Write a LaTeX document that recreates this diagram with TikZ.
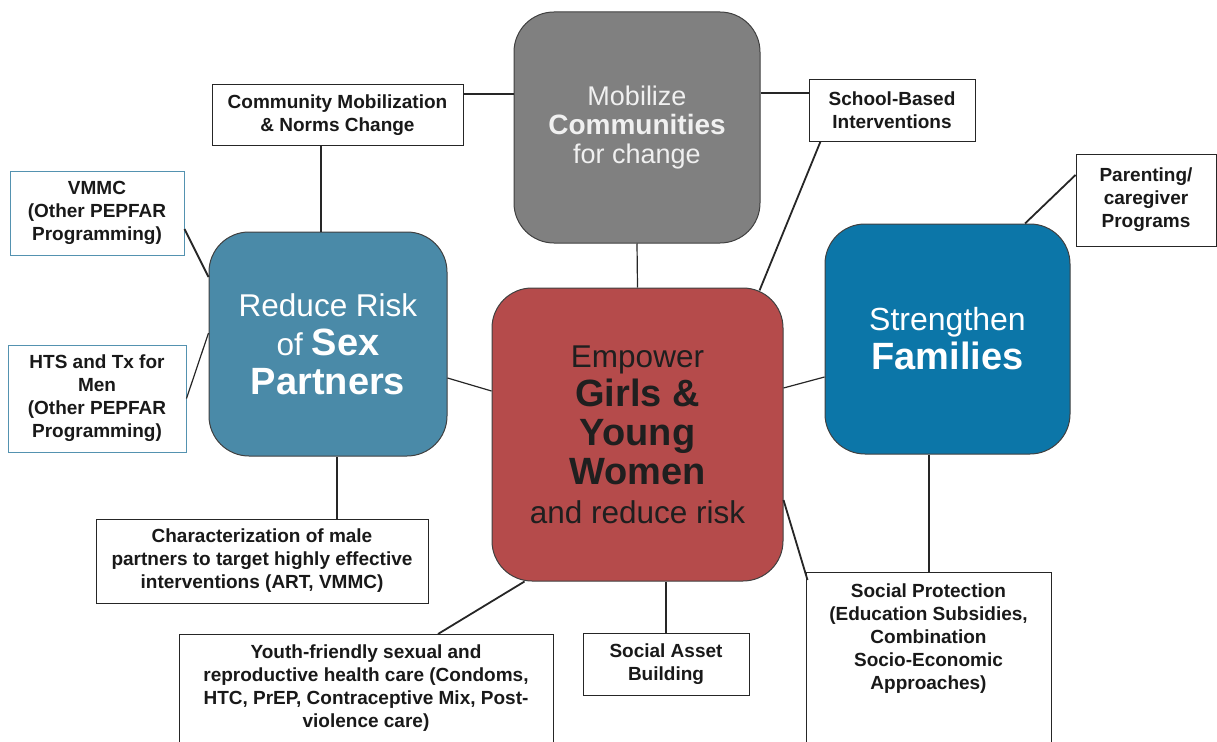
\documentclass[tikz,border=0pt]{standalone}
\usepackage{fontspec}
\setmainfont{Liberation Sans}
\usepackage{xcolor}
\usepackage{tikz}
\definecolor{mobgray}{RGB}{128,128,128}
\definecolor{empred}{RGB}{181,75,75}
\definecolor{riskblue}{RGB}{74,138,168}
\definecolor{famblue}{RGB}{12,118,168}
\definecolor{boxedge}{RGB}{84,146,176}

\newcommand{\bigtxt}{\fontsize{31.5}{39}\selectfont}
\newcommand{\bigbf}{\fontsize{38}{39}\selectfont\bfseries}
\newcommand{\smalltxt}{\fontsize{19}{23}\selectfont\bfseries}

\begin{document}
\begin{tikzpicture}[x=1pt,y=-1pt]
\useasboundingbox (0,0) rectangle (1217,741);
\clip (0,0) rectangle (1217,741);

\begin{scope}[every node/.style={rounded corners=40pt,draw=black!75,line width=1pt,align=center,inner sep=0pt}]
    \node[fill=mobgray,text=white!94!black,minimum width=246pt,minimum height=231pt,font=\fontsize{27}{29}\selectfont] (mobilize) at (637,127.5) {Mobilize\\{\bfseries\fontsize{28}{29}\selectfont Communities}\\for change};
    \node[fill=riskblue,text=white,minimum width=238pt,minimum height=224pt,font=\bigtxt] (reduce) at (328,344) {Reduce Risk\\of {\bigbf Sex}\\{\bigbf Partners}};
    \node[fill=empred,text=black!88,minimum width=291pt,minimum height=293pt,font=\bigtxt] (empower) at (637.5,434.5) {Empower\\{\bigbf Girls \&}\\{\bigbf Young}\\{\bigbf Women}\\and reduce risk};
    \node[fill=famblue,text=white,minimum width=245pt,minimum height=230pt,font=\fontsize{32}{39}\selectfont] (strength) at (947.5,339) {Strengthen\\{\bigbf Families}};
\end{scope}

\begin{scope}[every node/.style={draw=black!85,line width=1pt,fill=white,align=center,inner sep=0pt,font=\smalltxt,text=black!90}]
    \node[minimum width=251pt,minimum height=60pt] (comm) at (337.5,115) {Community Mobilization\\\& Norms Change};
    \node[minimum width=166pt,minimum height=61pt] (school) at (892,110.5) {School-Based\\Interventions};
    \node[minimum width=140pt,minimum height=92pt] (parent) at (1146,200) {Parenting/\\caregiver\\Programs};
    \node[draw=boxedge,minimum width=174pt,minimum height=84pt] (vmmc) at (97,213) {VMMC\\(Other PEPFAR\\Programming)};
    \node[draw=boxedge,minimum width=178pt,minimum height=107pt] (hts) at (97,398.5) {HTS and Tx for\\Men\\(Other PEPFAR\\Programming)};
    \node[minimum width=332pt,minimum height=84pt] (charact) at (262,561) {Characterization of male\\partners to target highly effective\\interventions (ART, VMMC)};
    \node[minimum width=166pt,minimum height=62pt] (asset) at (666,664) {Social Asset\\Building};
    \node[anchor=north] (youth) at (366,634) {\parbox[t][160pt][t]{374pt}{\centering\vspace{10pt}Youth-friendly sexual and\\reproductive health care (Condoms,\\HTC, PrEP, Contraceptive Mix, Post-\\violence care)}};
    \node[anchor=north] (sprot) at (928.5,572) {\parbox[t][200pt][t]{245pt}{\centering\vspace{11pt}Social Protection\\(Education Subsidies,\\Combination\\Socio-Economic\\Approaches)}};
\end{scope}

\begin{scope}[every edge/.style={draw=black!85,line width=1.8pt}]
    \path [-] ([yshift=21pt]comm.east) edge ([yshift=21pt]comm.east -| mobilize.west);
    \path [-] ([xshift=-16.5pt]comm.south) edge ([xshift=-16.5pt]comm.south |- reduce.north);
    \path [-] ([yshift=34.5pt]mobilize.east) edge ([yshift=34.5pt]mobilize.east -| school.west);
    \path [-] ([xshift=12pt]school.south west) edge ([xshift=-24pt,yshift=-3pt]empower.north east);
    \path [-] ([yshift=25pt]parent.west) edge ([xshift=77.5pt]strength.north);
    \path [-] ([xshift=-18.5pt]strength.south) edge ([xshift=-18.5pt]strength.south |- sprot.north);
    \path [-] ([yshift=-65.5pt]empower.east) edge ([xshift=2pt,yshift=-8pt]sprot.north west);
    \path [-] ([xshift=28.5pt]empower.south) edge ([xshift=28.5pt]empower.south |- asset.north);
    \path [-] ([xshift=33pt]empower.south west) edge ([xshift=72pt]youth.north);
    \path [-] ([xshift=9pt]reduce.south) edge ([xshift=9pt]reduce.south |- charact.north);
    \path [-] ([yshift=-16pt]vmmc.east) edge ([yshift=67pt]reduce.west);
\end{scope}

\begin{scope}[every edge/.style={draw=black!85,line width=1.2pt}]
    \path [-] (mobilize.south) edge (empower.north);
    \path [-] ([yshift=-34pt]reduce.east) edge ([yshift=43.5pt]empower.west);
    \path [-] ([yshift=46.5pt]empower.east) edge ([yshift=-38pt]strength.west);
    \path [-] (hts.east) edge ([yshift=11pt]reduce.west);
\end{scope}

\end{tikzpicture}
\end{document}
